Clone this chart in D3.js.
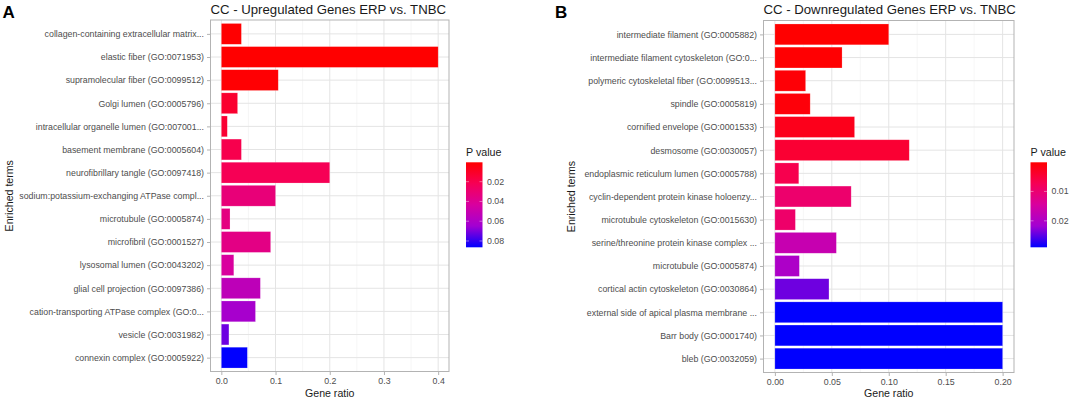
<!DOCTYPE html>
<html><head><meta charset="utf-8">
<script src="https://cdn.jsdelivr.net/npm/d3@7"></script>
<style>html,body{margin:0;padding:0;background:#fff;}svg{display:block;font-family:"Liberation Sans",Arial,sans-serif;}</style>
</head><body>
<svg id="chart" width="1072" height="400"></svg>
<script>
const upTerms = [
  "collagen-containing extracellular matrix...",
  "elastic fiber (GO:0071953)",
  "supramolecular fiber (GO:0099512)",
  "Golgi lumen (GO:0005796)",
  "intracellular organelle lumen (GO:007001...",
  "basement membrane (GO:0005604)",
  "neurofibrillary tangle (GO:0097418)",
  "sodium:potassium-exchanging ATPase compl...",
  "microtubule (GO:0005874)",
  "microfibril (GO:0001527)",
  "lysosomal lumen (GO:0043202)",
  "glial cell projection (GO:0097386)",
  "cation-transporting ATPase complex (GO:0...",
  "vesicle (GO:0031982)",
  "connexin complex (GO:0005922)"
];
const upRatio = [0.037, 0.400, 0.105, 0.030, 0.011, 0.037, 0.200, 0.100, 0.016, 0.091, 0.023, 0.072, 0.063, 0.014, 0.048];
const upP = [0.0006, 0.0004, 0.0012, 0.0124, 0.0133, 0.0200, 0.0219, 0.0320, 0.0345, 0.0355, 0.0430, 0.0540, 0.0630, 0.0720, 0.0864];
const upTicks = [0.0, 0.1, 0.2, 0.3, 0.4];
const upLegendTicks = [0.02, 0.04, 0.06, 0.08];

const downTerms = [
  "intermediate filament (GO:0005882)",
  "intermediate filament cytoskeleton (GO:0...",
  "polymeric cytoskeletal fiber (GO:0099513...",
  "spindle (GO:0005819)",
  "cornified envelope (GO:0001533)",
  "desmosome (GO:0030057)",
  "endoplasmic reticulum lumen (GO:0005788)",
  "cyclin-dependent protein kinase holoenzy...",
  "microtubule cytoskeleton (GO:0015630)",
  "serine/threonine protein kinase complex ...",
  "microtubule (GO:0005874)",
  "cortical actin cytoskeleton (GO:0030864)",
  "external side of apical plasma membrane ...",
  "Barr body (GO:0001740)",
  "bleb (GO:0032059)"
];
const downRatio = [0.100, 0.059, 0.027, 0.031, 0.070, 0.118, 0.021, 0.067, 0.018, 0.054, 0.0215, 0.0475, 0.200, 0.200, 0.200];
const downP = [0.0001, 0.0003, 0.0006, 0.0009, 0.0024, 0.0044, 0.0067, 0.0096, 0.0093, 0.0169, 0.0203, 0.0241, 0.0290, 0.0290, 0.0290];
const downTicks = [0.00, 0.05, 0.10, 0.15, 0.20];
const downLegendTicks = [0.01, 0.02];

// colour ramp (low p = red, high p = blue), style constants
const rampStops = ["#ff0000", "#f60055", "#d8009f", "#a200d2", "#0000ff"];

const svg = d3.select("#chart");
const defs = svg.append("defs");

function panel(opt) {
  const g = svg.append("g");
  const {x0, x1, y0, y1, terms, ratio, pvals, ticks, minorTicks, fmt, legTicks, legX, letter, letterX, titleText, yTitleX} = opt;
  const maxR = d3.max(ratio);
  const x = d3.scaleLinear().domain([-0.05 * maxR, 1.05 * maxR]).range([x0, x1]);
  const y = d3.scalePoint().domain(terms).range([y0, y1]).padding(0.6);
  const step = y.step();
  const pExt = d3.extent(pvals);
  const color = d3.scaleLinear()
    .domain(rampStops.map((c, i) => pExt[0] + (pExt[1] - pExt[0]) * i / (rampStops.length - 1)))
    .range(rampStops).interpolate(d3.interpolateRgb);

  g.append("rect").attr("x", x0).attr("y", y0).attr("width", x1 - x0).attr("height", y1 - y0).attr("fill", "#fff");
  g.selectAll(".minor").data(minorTicks).join("line")
    .attr("x1", d => x(d)).attr("x2", d => x(d)).attr("y1", y0).attr("y2", y1)
    .attr("stroke", "#f0f0f0").attr("stroke-width", 0.6);
  g.selectAll(".majx").data(ticks).join("line")
    .attr("x1", d => x(d)).attr("x2", d => x(d)).attr("y1", y0).attr("y2", y1)
    .attr("stroke", "#e4e4e4").attr("stroke-width", 1);
  g.selectAll(".majy").data(terms).join("line")
    .attr("x1", x0).attr("x2", x1).attr("y1", d => y(d)).attr("y2", d => y(d))
    .attr("stroke", "#e4e4e4").attr("stroke-width", 1);
  g.selectAll(".bar").data(terms).join("rect")
    .attr("x", x(0)).attr("y", d => y(d) - step * 0.45)
    .attr("width", (d, i) => x(ratio[i]) - x(0)).attr("height", step * 0.9)
    .attr("fill", (d, i) => color(pvals[i]))
    .attr("stroke", "rgba(255,255,255,0.35)").attr("stroke-width", 0.6);
  g.append("rect").attr("x", x0).attr("y", y0).attr("width", x1 - x0).attr("height", y1 - y0)
    .attr("fill", "none").attr("stroke", "#b3b3b3").attr("stroke-width", 1);

  const xAxis = d3.axisBottom(x).tickValues(ticks).tickFormat(fmt).tickSize(3.5).tickPadding(3);
  const xa = g.append("g").attr("transform", `translate(0,${y1})`).call(xAxis);
  xa.select(".domain").remove();
  xa.selectAll(".tick line").attr("stroke", "#b3b3b3");
  xa.selectAll(".tick text").attr("fill", "#4d4d4d").style("font-size", "8.8px").style("font-family", "Liberation Sans, Arial, sans-serif");

  const yAxis = d3.axisLeft(y).tickSize(3.5).tickPadding(3);
  const ya = g.append("g").attr("transform", `translate(${x0},0)`).call(yAxis);
  ya.select(".domain").remove();
  ya.selectAll(".tick line").attr("stroke", "#b3b3b3");
  ya.selectAll(".tick text").attr("fill", "#4d4d4d").style("font-size", "8.8px").style("font-family", "Liberation Sans, Arial, sans-serif");

  g.append("text").attr("x", x0).attr("y", 13.5).attr("fill", "#1a1a1a")
    .style("font-size", "13.2px").text(titleText);
  g.append("text").attr("x", (x0 + x1) / 2).attr("y", 396.5).attr("text-anchor", "middle")
    .attr("fill", "#1a1a1a").style("font-size", "10.6px").text("Gene ratio");
  g.append("text").attr("transform", `translate(${yTitleX},${(y0 + y1) / 2}) rotate(-90)`)
    .attr("text-anchor", "middle").attr("fill", "#1a1a1a").style("font-size", "10.6px").text("Enriched terms");
  g.append("text").attr("x", letterX).attr("y", 18.3).attr("fill", "#000")
    .style("font-size", "17px").style("font-weight", "bold").text(letter);

  const lgTop = 162.3, lgBot = 247.3, lgW = 16.5;
  const ly = d3.scaleLinear().domain(pExt).range([lgTop, lgBot]);
  const gid = "grad" + letter;
  const grad = defs.append("linearGradient").attr("id", gid).attr("x1", 0).attr("x2", 0).attr("y1", 0).attr("y2", 1);
  d3.range(0, 1.0001, 0.05).forEach(t => {
    grad.append("stop").attr("offset", t).attr("stop-color", color(pExt[0] + t * (pExt[1] - pExt[0])));
  });
  g.append("text").attr("x", legX).attr("y", 156).attr("fill", "#1a1a1a").style("font-size", "10.7px").text("P value");
  g.append("rect").attr("x", legX).attr("y", lgTop).attr("width", lgW).attr("height", lgBot - lgTop).attr("fill", `url(#${gid})`);
  legTicks.forEach(v => {
    g.append("line").attr("x1", legX).attr("x2", legX + 3).attr("y1", ly(v)).attr("y2", ly(v)).attr("stroke", "rgba(255,255,255,0.7)").attr("stroke-width", 0.6);
    g.append("line").attr("x1", legX + lgW - 3).attr("x2", legX + lgW).attr("y1", ly(v)).attr("y2", ly(v)).attr("stroke", "rgba(255,255,255,0.7)").attr("stroke-width", 0.6);
    g.append("text").attr("x", legX + lgW + 4.5).attr("y", ly(v)).attr("dy", "0.34em").attr("fill", "#4d4d4d").style("font-size", "8.8px").text(d3.format(".2f")(v));
  });
}

panel({
  x0: 210.5, x1: 449, y0: 20, y1: 371.5,
  terms: upTerms, ratio: upRatio, pvals: upP,
  ticks: upTicks, minorTicks: [0.05, 0.15, 0.25, 0.35],
  fmt: d3.format(".1f"), legTicks: upLegendTicks, legX: 466,
  letter: "A", letterX: 2.5, titleText: "CC - Upregulated Genes ERP vs. TNBC", yTitleX: 13
});
panel({
  x0: 763.5, x1: 1014, y0: 20.5, y1: 372.5,
  terms: downTerms, ratio: downRatio, pvals: downP,
  ticks: downTicks, minorTicks: [0.025, 0.075, 0.125, 0.175],
  fmt: d3.format(".2f"), legTicks: downLegendTicks, legX: 1030.5,
  letter: "B", letterX: 555, titleText: "CC - Downregulated Genes ERP vs. TNBC", yTitleX: 575
});
</script>
</body></html>
